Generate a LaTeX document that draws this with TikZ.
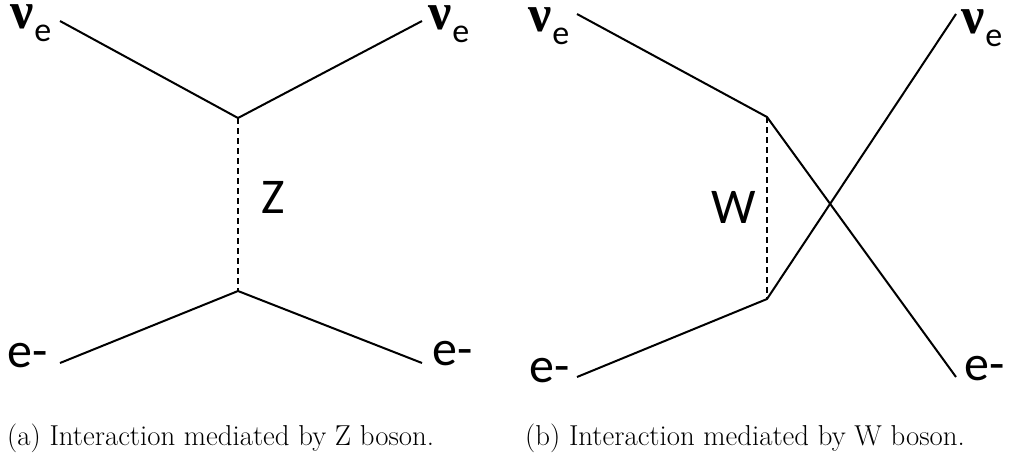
\documentclass[tikz,border=0pt]{standalone}
\usepackage{fontspec}
\newfontfamily\labfont{Carlito}
\newfontfamily\nufont{Liberation Serif}
\newcommand{\nuE}{{\nufont\bfseries\fontsize{52}{52}\selectfont ν}\kern1pt\raisebox{-13pt}{\fontsize{34}{34}\selectfont e}}
\begin{document}
\begin{tikzpicture}[x=1pt,y=-1pt,
  fermion/.style={line width=2pt},
  boson/.style={line width=1.8pt,dash pattern=on 6pt off 4pt},
  lab/.style={inner sep=0pt,anchor=base west,font=\labfont\fontsize{50}{50}\selectfont},
  captext/.style={inner sep=0pt,anchor=base west,font=\fontsize{28.8}{34}\selectfont}]
\useasboundingbox (0,0) rectangle (1016,459);
% ---------- (a) ----------
\coordinate (a1) at (60,21);
\coordinate (a2) at (422,21);
\coordinate (a3) at (60,363);
\coordinate (a4) at (422,363);
\coordinate (av1) at (238,118);
\coordinate (av2) at (238,291);
\draw[fermion] (a1) -- (av1) -- (a2);
\draw[fermion] (a3) -- (av2) -- (a4);
\draw[boson] (av1) -- (av2);
\node[lab] (la1) at (10,28) {\nuE};
\node[lab] (la2) at (428,29) {\nuE};
\node[lab] (la3) at (7,367) {e-};
\node[lab] (la4) at (432,365) {e-};
\node[lab] (lz) at (261,213) {Z};
\node[captext] (capa) at (7,445) {(a) Interaction mediated by Z boson.};
% ---------- (b) ----------
\coordinate (b1) at (577,14);
\coordinate (b2) at (956,14);
\coordinate (b3) at (577,377);
\coordinate (b4) at (956,377);
\coordinate (bv1) at (767,117);
\coordinate (bv2) at (767,299);
\draw[fermion] (b1) -- (bv1) -- (b4);
\draw[fermion] (b3) -- (bv2) -- (b2);
\draw[boson] (bv1) -- (bv2);
\node[lab] (lb1) at (528,31) {\nuE};
\node[lab] (lb2) at (961,33) {\nuE};
\node[lab] (lb3) at (529,382) {e-};
\node[lab] (lb4) at (964,380) {e-};
\node[lab] (lw) at (711,223) {W};
\node[captext] (capb) at (525,445) {(b) Interaction mediated by W boson.};
\end{tikzpicture}
\end{document}
